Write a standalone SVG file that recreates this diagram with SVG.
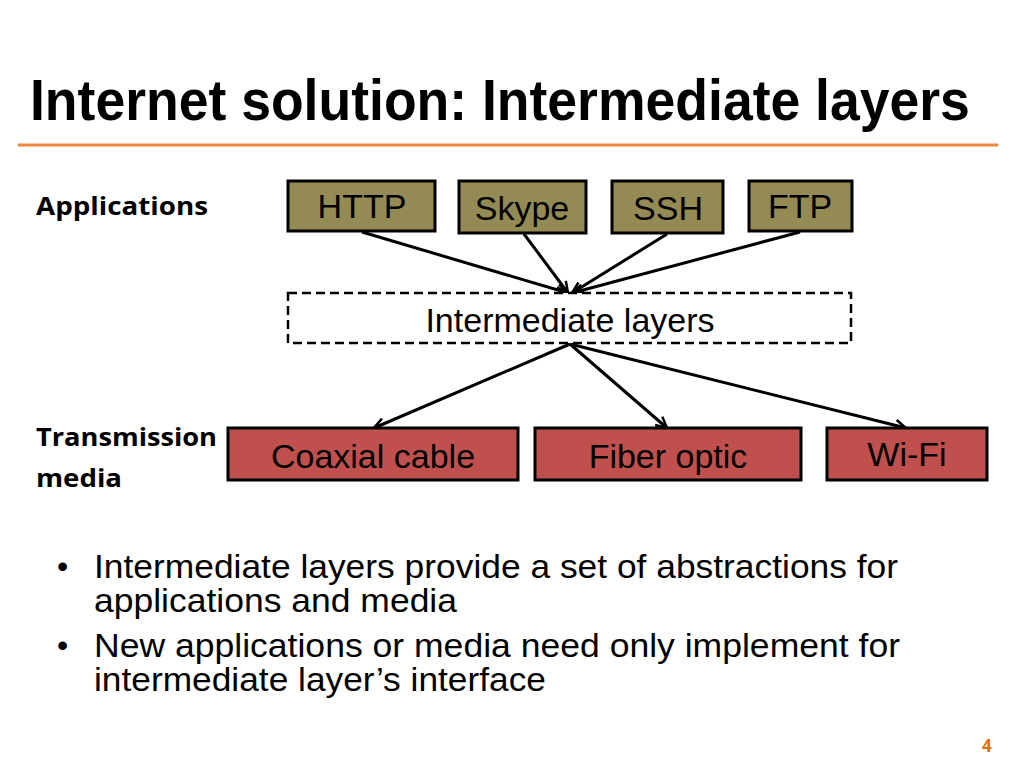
<svg xmlns="http://www.w3.org/2000/svg" width="1024" height="768" viewBox="0 0 1024 768">
<style>
.t{font-family:"Liberation Sans",Arial,sans-serif;fill:#000}
.app{fill:#948A54;stroke:#000;stroke-width:3}
.med{fill:#C0504D;stroke:#000;stroke-width:3}
.bt{font-size:34px;text-anchor:middle}
.lbl{font-family:"Open Sans","Liberation Sans",sans-serif;font-weight:bold;font-size:25px;fill:#000}
.bul{font-size:33px}
.c{stroke:#000;stroke-width:3;fill:none;marker-end:url(#ah)}
</style>
<defs>
<marker id="ah" markerWidth="14" markerHeight="14" viewBox="0 0 14 14" refX="12" refY="7" orient="auto" markerUnits="userSpaceOnUse">
<path d="M1,1.5 L12,7 L1,12.5" fill="none" stroke="#000" stroke-width="2.5"/>
</marker>
</defs>
<rect width="1024" height="768" fill="#fff"/>
<text class="t" transform="translate(30,120) scale(0.78,1)" x="0" y="0" font-size="58" font-weight="bold" textLength="1205" lengthAdjust="spacingAndGlyphs">Internet solution: Intermediate layers</text>
<line x1="18" y1="145" x2="998" y2="145" stroke="#F0883A" stroke-width="3"/>
<text class="lbl" x="36" y="215" textLength="172" lengthAdjust="spacingAndGlyphs">Applications</text>
<text class="lbl" x="36" y="446" textLength="181" lengthAdjust="spacingAndGlyphs">Transmission</text>
<text class="lbl" x="36" y="487" textLength="86" lengthAdjust="spacingAndGlyphs">media</text>
<g id="connectors">
<line class="c" x1="362" y1="232" x2="568" y2="293"/>
<line class="c" x1="524" y1="234" x2="568" y2="293"/>
<line class="c" x1="667" y1="234" x2="572" y2="293"/>
<line class="c" x1="800" y1="232" x2="572" y2="293"/>
<line class="c" x1="570" y1="344" x2="374" y2="428"/>
<line class="c" x1="570" y1="344" x2="667" y2="428"/>
<line class="c" x1="570" y1="344" x2="906" y2="428"/>
</g>
<g id="http"><rect class="app" x="288" y="181" width="147" height="50"/><text class="t bt" x="362" y="218">HTTP</text></g>
<g id="skype"><rect class="app" x="459" y="181" width="127" height="52"/><text class="t bt" x="522" y="220">Skype</text></g>
<g id="ssh"><rect class="app" x="612" y="181" width="111" height="52"/><text class="t bt" x="668" y="220">SSH</text></g>
<g id="ftp"><rect class="app" x="749" y="181" width="103" height="50"/><text class="t bt" x="800" y="218">FTP</text></g>
<g id="intermediate"><rect x="288" y="293" width="563" height="50" fill="#fff" stroke="#000" stroke-width="2.5" stroke-dasharray="9,5"/><text class="t bt" x="570" y="332">Intermediate layers</text></g>
<g id="coaxial"><rect class="med" x="228" y="428" width="290" height="52"/><text class="t bt" x="373" y="468">Coaxial cable</text></g>
<g id="fiber"><rect class="med" x="535" y="428" width="266" height="52"/><text class="t bt" x="668" y="468">Fiber optic</text></g>
<g id="wifi"><rect class="med" x="827" y="428" width="160" height="52"/><text class="t bt" x="907" y="466">Wi-Fi</text></g>
<text class="t" x="57" y="577" font-size="32">•</text>
<text class="t bul" x="94" y="578" textLength="804" lengthAdjust="spacingAndGlyphs">Intermediate layers provide a set of abstractions for</text>
<text class="t bul" x="94" y="612" textLength="363" lengthAdjust="spacingAndGlyphs">applications and media</text>
<text class="t" x="57" y="656" font-size="32">•</text>
<text class="t bul" x="94" y="657" textLength="806" lengthAdjust="spacingAndGlyphs">New applications or media need only implement for</text>
<text class="t bul" x="94" y="691" textLength="452" lengthAdjust="spacingAndGlyphs">intermediate layer’s interface</text>
<text x="982" y="752" font-family="Open Sans,Liberation Sans,sans-serif" font-weight="bold" font-size="17" fill="#E46C0A">4</text>
</svg>
